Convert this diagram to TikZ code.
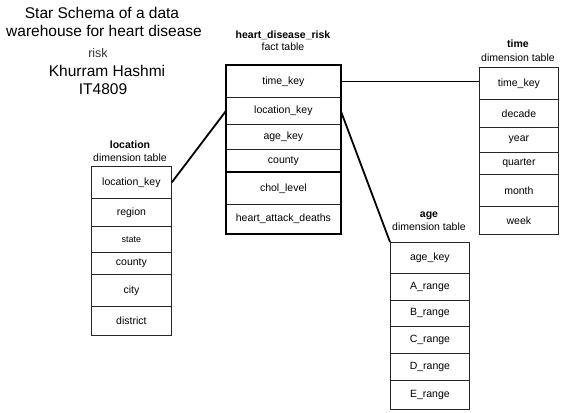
\documentclass[tikz,border=0pt]{standalone}
\usepackage{fontspec}
\setmainfont{Liberation Sans}
\usepackage{xcolor}
\usepackage{tikz}

\tikzset{
  cell/.style={draw=black!85, line width=0.8pt, inner sep=0pt, anchor=north west,
    font=\fontsize{10.5}{12}\selectfont},
  heading/.style={font=\fontsize{10.5}{12}\selectfont\bfseries, anchor=base},
  subheading/.style={font=\fontsize{10.5}{12}\selectfont, anchor=base},
  titleline/.style={font=\fontsize{15.5}{18}\selectfont, anchor=base},
  link/.style={line width=1.8pt}
}

\begin{document}
\begin{tikzpicture}[x=1pt,y=-1pt]
    \useasboundingbox (0,0) rectangle (575,412);
    % title
    \node[titleline] (title1) at (102,19) {Star Schema of a data};
    \node[titleline] (title2) at (104,37) {warehouse for heart disease};
    \node[titleline, font=\fontsize{12.5}{15}\selectfont, text=black!80] (title3) at (98,57) {risk};
    \node[titleline] (title4) at (107,77) {Khurram Hashmi};
    \node[titleline] (title5) at (103,94) {IT4809};

    % fact table
    \node[heading] (facthead) at (283,39) {heart\_disease\_risk};
    \node[subheading] (factsub) at (283,51) {fact table};
    \node[cell, minimum width=114pt, minimum height=32pt] (fact1) at (226,65) {time\_key};
    \node[cell, minimum width=114pt, minimum height=27pt] (fact2) at (226,97) {location\_key};
    \node[cell, minimum width=114pt, minimum height=25pt] (fact3) at (226,124) {age\_key};
    \node[cell, minimum width=114pt, minimum height=23pt] (fact4) at (226,149) {county};
    \node[cell, minimum width=114pt, minimum height=32pt] (fact5) at (226,172) {chol\_level};
    \node[cell, minimum width=114pt, minimum height=29pt] (fact6) at (226,204) {heart\_attack\_deaths};
    \draw[line width=2pt] (fact1.north west) rectangle (fact6.south east);
    \draw[line width=2pt] (fact5.north west) -- (fact5.north east);

    % time dimension
    \node[heading] (timehead) at (518,48) {time};
    \node[subheading] (timesub) at (518,61) {dimension table};
    \node[cell, minimum width=79pt, minimum height=32pt] (time1) at (479,67) {time\_key};
    \node[cell, minimum width=79pt, minimum height=28pt] (time2) at (479,99) {decade};
    \node[cell, minimum width=79pt, minimum height=25pt] (time3) at (479,127) {year};
    \node[cell, minimum width=79pt, minimum height=22pt] (time4) at (479,152) {quarter};
    \node[cell, minimum width=79pt, minimum height=32pt] (time5) at (479,174) {month};
    \node[cell, minimum width=79pt, minimum height=28pt] (time6) at (479,206) {week};

    % location dimension
    \node[heading] (lochead) at (130,148) {location};
    \node[subheading] (locsub) at (130,161) {dimension table};
    \node[cell, minimum width=80pt, minimum height=32pt] (loc1) at (91,166) {location\_key};
    \node[cell, minimum width=80pt, minimum height=28pt] (loc2) at (91,198) {region};
    \node[cell, minimum width=80pt, minimum height=26pt, font=\fontsize{9}{11}\selectfont] (loc3) at (91,226) {state};
    \node[cell, minimum width=80pt, minimum height=22pt] (loc4) at (91,252) {county};
    \node[cell, minimum width=80pt, minimum height=32pt] (loc5) at (91,274) {city};
    \node[cell, minimum width=80pt, minimum height=29pt] (loc6) at (91,306) {district};

    % age dimension
    \node[heading] (agehead) at (429,217) {age};
    \node[subheading] (agesub) at (429,230) {dimension table};
    \node[cell, minimum width=79pt, minimum height=31pt] (age1) at (390,242) {age\_key};
    \node[cell, minimum width=79pt, minimum height=27pt] (age2) at (390,273) {A\_range};
    \node[cell, minimum width=79pt, minimum height=26pt] (age3) at (390,300) {B\_range};
    \node[cell, minimum width=79pt, minimum height=27pt] (age4) at (390,326) {C\_range};
    \node[cell, minimum width=79pt, minimum height=27pt] (age5) at (390,353) {D\_range};
    \node[cell, minimum width=79pt, minimum height=29pt] (age6) at (390,380) {E\_range};

    % links
    \draw[link] (fact1.east) -- (fact1.east -| time1.west);
    \draw[link] (loc1.east) -- (fact2.west);
    \draw[link] (fact2.east) -- (age1.north west);
\end{tikzpicture}
\end{document}
